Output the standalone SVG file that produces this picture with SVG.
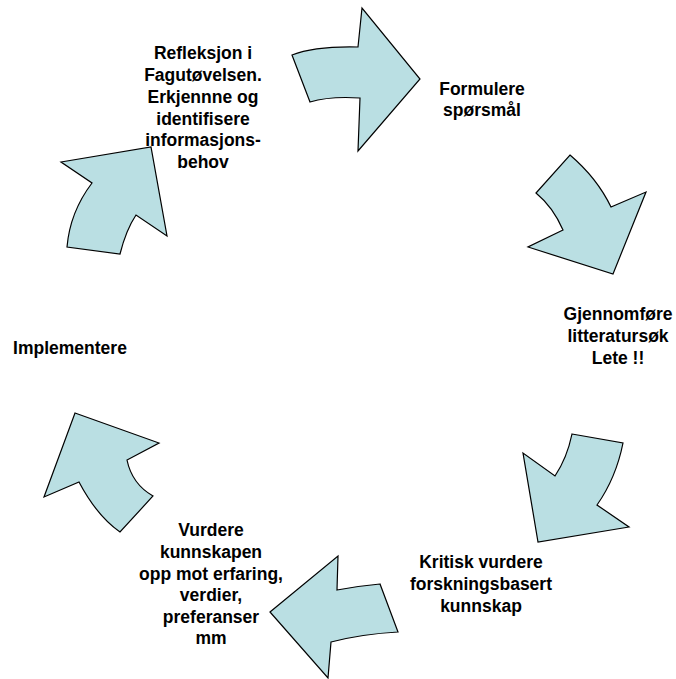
<svg xmlns="http://www.w3.org/2000/svg" width="676" height="679" viewBox="0 0 676 679">
<style>
.arr{fill:#badfe3;stroke:#000;stroke-width:1.2;stroke-linejoin:miter}
.t{font-family:"Liberation Sans",Arial,sans-serif;font-weight:bold;font-size:17.5px;fill:#000;text-anchor:middle}
</style>
<rect width="676" height="679" fill="#fff"/>
<g id="connectors">
<path id="a1" class="arr" d="M292,55 Q315,46 358,47 L362,8 L420,79 L358,151 L360,98 Q330,96 310,102 Z"/>
<path id="a2" class="arr" d="M570,155 Q597,178 611,207 L646,192 L613,274 L528,247 L563,230 Q553,207 536,193 Z"/>
<path id="a3" class="arr" d="M572,434 L623,443 Q616,478 597,505 L629,527 L538,542 L523,453 L555,476 Q567,458 572,434 Z"/>
<path id="a4" class="arr" d="M270,612 L338,556 L337,590 Q358,586 380,584 L398,632 Q362,634 331,642 L328,678 Z"/>
<path id="a5" class="arr" d="M75,413 L159,443 L127,460 Q132,484 153,496 L120,532 Q97,516 79,482 L44,497 Z"/>
<path id="a6" class="arr" d="M61,162 L151,147 L167,236 L136,215 Q126,230 120,254 L67,247 Q70,212 92,183 Z"/>
</g>
<g id="n1">
<text class="t" x="203" y="59">Refleksjon i</text>
<text class="t" x="203" y="81">Fagutøvelsen.</text>
<text class="t" x="203" y="103">Erkjennne og</text>
<text class="t" x="203" y="125">identifisere</text>
<text class="t" x="203" y="146">informasjons-</text>
<text class="t" x="203" y="168">behov</text>
</g>
<g id="n2">
<text class="t" x="482" y="95">Formulere</text>
<text class="t" x="482" y="116">spørsmål</text>
</g>
<g id="n3">
<text class="t" x="618" y="320">Gjennomføre</text>
<text class="t" x="618" y="342">litteratursøk</text>
<text class="t" x="618" y="364">Lete !!</text>
</g>
<g id="n4">
<text class="t" x="481" y="568">Kritisk vurdere</text>
<text class="t" x="481" y="590">forskningsbasert</text>
<text class="t" x="481" y="612">kunnskap</text>
</g>
<g id="n5">
<text class="t" x="211" y="536">Vurdere</text>
<text class="t" x="211" y="558">kunnskapen</text>
<text class="t" x="211" y="580">opp mot erfaring,</text>
<text class="t" x="211" y="601">verdier,</text>
<text class="t" x="211" y="623">preferanser</text>
<text class="t" x="211" y="644">mm</text>
</g>
<g id="n6">
<text class="t" x="70" y="354">Implementere</text>
</g>
</svg>
